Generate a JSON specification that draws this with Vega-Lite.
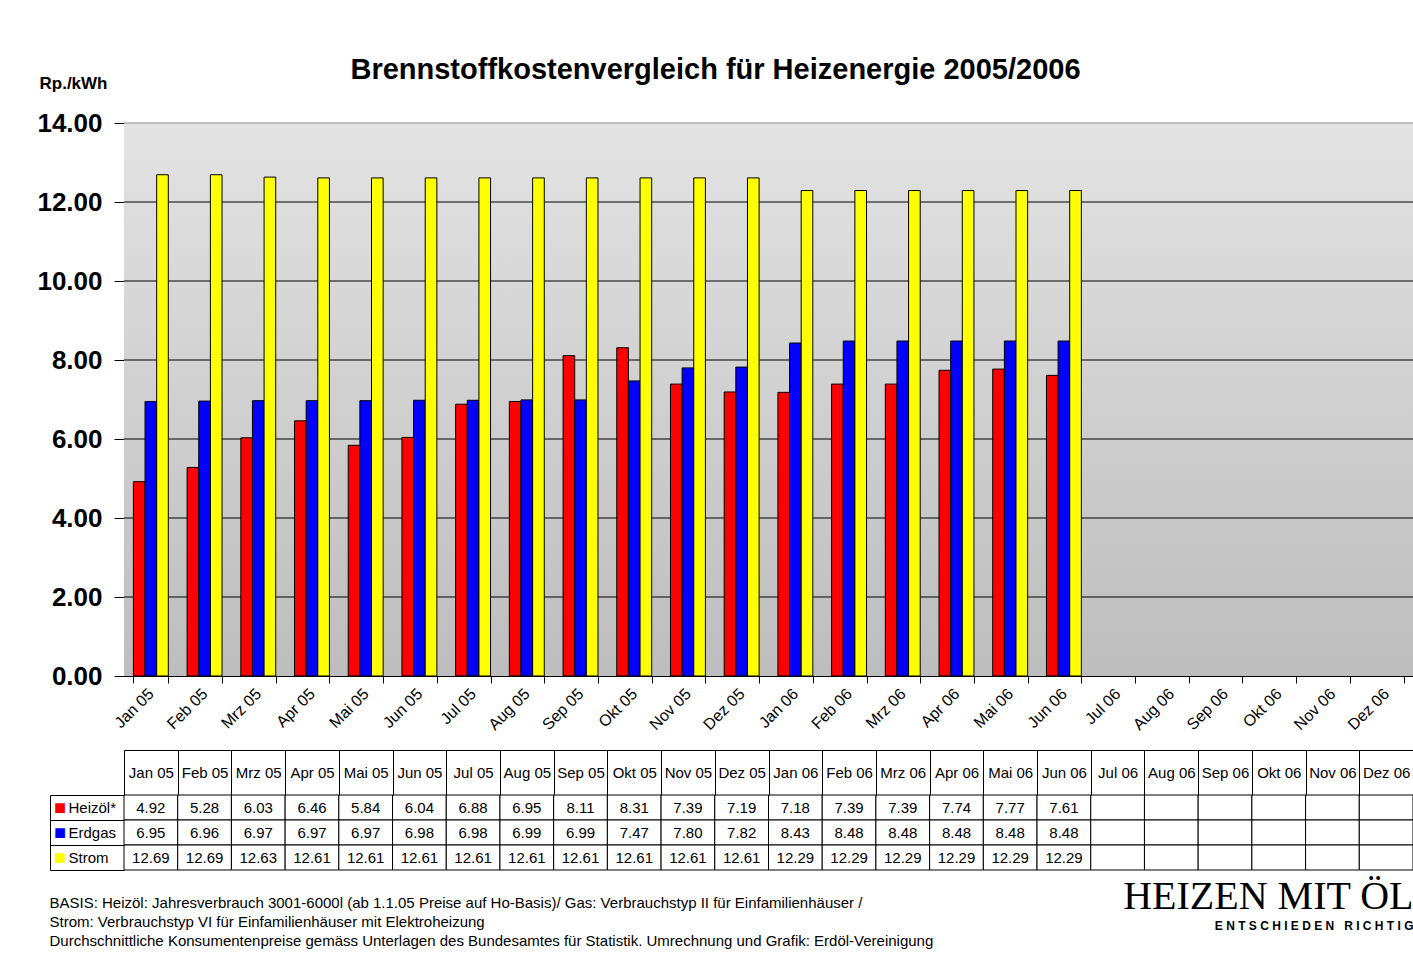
{
  "$schema": "https://vega.github.io/schema/vega-lite/v6.json",
  "padding": {"left": 36, "top": 56, "right": 0, "bottom": 0},
  "background": "white",
  "config": {"font": "Liberation Sans", "view": {"stroke": null}, "title": {"color": "black"}},
  "datasets": {
    "d": [
      {"month": "Jan 05", "series": "Heizöl*", "value": 4.92}, {"month": "Jan 05", "series": "Erdgas", "value": 6.95}, {"month": "Jan 05", "series": "Strom", "value": 12.69},
      {"month": "Feb 05", "series": "Heizöl*", "value": 5.28}, {"month": "Feb 05", "series": "Erdgas", "value": 6.96}, {"month": "Feb 05", "series": "Strom", "value": 12.69},
      {"month": "Mrz 05", "series": "Heizöl*", "value": 6.03}, {"month": "Mrz 05", "series": "Erdgas", "value": 6.97}, {"month": "Mrz 05", "series": "Strom", "value": 12.63},
      {"month": "Apr 05", "series": "Heizöl*", "value": 6.46}, {"month": "Apr 05", "series": "Erdgas", "value": 6.97}, {"month": "Apr 05", "series": "Strom", "value": 12.61},
      {"month": "Mai 05", "series": "Heizöl*", "value": 5.84}, {"month": "Mai 05", "series": "Erdgas", "value": 6.97}, {"month": "Mai 05", "series": "Strom", "value": 12.61},
      {"month": "Jun 05", "series": "Heizöl*", "value": 6.04}, {"month": "Jun 05", "series": "Erdgas", "value": 6.98}, {"month": "Jun 05", "series": "Strom", "value": 12.61},
      {"month": "Jul 05", "series": "Heizöl*", "value": 6.88}, {"month": "Jul 05", "series": "Erdgas", "value": 6.98}, {"month": "Jul 05", "series": "Strom", "value": 12.61},
      {"month": "Aug 05", "series": "Heizöl*", "value": 6.95}, {"month": "Aug 05", "series": "Erdgas", "value": 6.99}, {"month": "Aug 05", "series": "Strom", "value": 12.61},
      {"month": "Sep 05", "series": "Heizöl*", "value": 8.11}, {"month": "Sep 05", "series": "Erdgas", "value": 6.99}, {"month": "Sep 05", "series": "Strom", "value": 12.61},
      {"month": "Okt 05", "series": "Heizöl*", "value": 8.31}, {"month": "Okt 05", "series": "Erdgas", "value": 7.47}, {"month": "Okt 05", "series": "Strom", "value": 12.61},
      {"month": "Nov 05", "series": "Heizöl*", "value": 7.39}, {"month": "Nov 05", "series": "Erdgas", "value": 7.80}, {"month": "Nov 05", "series": "Strom", "value": 12.61},
      {"month": "Dez 05", "series": "Heizöl*", "value": 7.19}, {"month": "Dez 05", "series": "Erdgas", "value": 7.82}, {"month": "Dez 05", "series": "Strom", "value": 12.61},
      {"month": "Jan 06", "series": "Heizöl*", "value": 7.18}, {"month": "Jan 06", "series": "Erdgas", "value": 8.43}, {"month": "Jan 06", "series": "Strom", "value": 12.29},
      {"month": "Feb 06", "series": "Heizöl*", "value": 7.39}, {"month": "Feb 06", "series": "Erdgas", "value": 8.48}, {"month": "Feb 06", "series": "Strom", "value": 12.29},
      {"month": "Mrz 06", "series": "Heizöl*", "value": 7.39}, {"month": "Mrz 06", "series": "Erdgas", "value": 8.48}, {"month": "Mrz 06", "series": "Strom", "value": 12.29},
      {"month": "Apr 06", "series": "Heizöl*", "value": 7.74}, {"month": "Apr 06", "series": "Erdgas", "value": 8.48}, {"month": "Apr 06", "series": "Strom", "value": 12.29},
      {"month": "Mai 06", "series": "Heizöl*", "value": 7.77}, {"month": "Mai 06", "series": "Erdgas", "value": 8.48}, {"month": "Mai 06", "series": "Strom", "value": 12.29},
      {"month": "Jun 06", "series": "Heizöl*", "value": 7.61}, {"month": "Jun 06", "series": "Erdgas", "value": 8.48}, {"month": "Jun 06", "series": "Strom", "value": 12.29},
      {"month": "Jul 06", "series": "Heizöl*", "value": null}, {"month": "Jul 06", "series": "Erdgas", "value": null}, {"month": "Jul 06", "series": "Strom", "value": null},
      {"month": "Aug 06", "series": "Heizöl*", "value": null}, {"month": "Aug 06", "series": "Erdgas", "value": null}, {"month": "Aug 06", "series": "Strom", "value": null},
      {"month": "Sep 06", "series": "Heizöl*", "value": null}, {"month": "Sep 06", "series": "Erdgas", "value": null}, {"month": "Sep 06", "series": "Strom", "value": null},
      {"month": "Okt 06", "series": "Heizöl*", "value": null}, {"month": "Okt 06", "series": "Erdgas", "value": null}, {"month": "Okt 06", "series": "Strom", "value": null},
      {"month": "Nov 06", "series": "Heizöl*", "value": null}, {"month": "Nov 06", "series": "Erdgas", "value": null}, {"month": "Nov 06", "series": "Strom", "value": null},
      {"month": "Dez 06", "series": "Heizöl*", "value": null}, {"month": "Dez 06", "series": "Erdgas", "value": null}, {"month": "Dez 06", "series": "Strom", "value": null}
    ]
  },
  "title": {
    "text": "HEIZEN MIT ÖL",
    "subtitle": "E N T S C H I E D E N\u00a0\u00a0\u00a0R I C H T I G",
    "orient": "bottom",
    "anchor": "end",
    "frame": "bounds",
    "font": "Liberation Serif",
    "fontSize": 40,
    "fontWeight": "normal",
    "color": "black",
    "subtitleFont": "Liberation Sans",
    "subtitleFontSize": 12,
    "subtitleFontWeight": "bold",
    "subtitleColor": "black",
    "subtitlePadding": 4,
    "offset": -72
  },
  "spacing": 16,
  "vconcat": [
    {
      "width": 1289,
      "height": 553,
      "title": {
        "text": "Brennstoffkostenvergleich für Heizenergie 2005/2006",
        "fontSize": 29,
        "fontWeight": "bold",
        "anchor": "middle",
        "dx": -53,
        "offset": -11
      },
      "layer": [
        {
          "data": {"values": [{}]},
          "mark": {"type": "rect", "fill": {"gradient": "linear", "x1": 0, "y1": 0, "x2": 0, "y2": 1, "stops": [{"offset": 0, "color": "#e3e3e3"}, {"offset": 1, "color": "#bdbdbd"}]}},
          "encoding": {"y": {"datum": 0, "type": "quantitative"}, "y2": {"datum": 14}}
        },
        {
          "data": {"values": [{"v": 2}, {"v": 4}, {"v": 6}, {"v": 8}, {"v": 10}, {"v": 12}]},
          "mark": {"type": "rule", "color": "black", "strokeWidth": 1},
          "encoding": {"y": {"field": "v", "type": "quantitative"}}
        },
        {
          "data": {"values": [{"v": 14}]},
          "mark": {"type": "rule", "color": "#8c8c8c", "strokeWidth": 1},
          "encoding": {"y": {"field": "v", "type": "quantitative"}}
        },
        {
          "data": {"name": "d"},
          "mark": {"type": "bar", "stroke": "black", "strokeWidth": 1},
          "encoding": {
            "x": {
              "field": "month", "type": "nominal", "sort": null,
              "scale": {"domain": ["Jan 05","Feb 05","Mrz 05","Apr 05","Mai 05","Jun 05","Jul 05","Aug 05","Sep 05","Okt 05","Nov 05","Dez 05","Jan 06","Feb 06","Mrz 06","Apr 06","Mai 06","Jun 06","Jul 06","Aug 06","Sep 06","Okt 06","Nov 06","Dez 06"], "paddingInner": 0.35, "paddingOuter": 0.175},
              "axis": {"title": null, "labelAngle": -45, "labelAlign": "right", "labelBaseline": "middle", "labelFontSize": 16, "labelColor": "black", "labelPadding": 8, "tickBand": "extent", "tickSize": 7, "tickColor": "black", "domainColor": "black", "labelOverlap": false, "labelBound": false}
            },
            "xOffset": {"field": "series", "type": "nominal", "scale": {"domain": ["Heizöl*", "Erdgas", "Strom"]}},
            "y": {
              "field": "value", "type": "quantitative",
              "scale": {"domain": [0, 14], "nice": false},
              "axis": {"title": "Rp./kWh", "titleAngle": 0, "titleAlign": "left", "titleBaseline": "middle", "titleX": -85, "titleY": -40, "titleFontSize": 17, "titleFontWeight": "bold", "titleColor": "black", "values": [0, 2, 4, 6, 8, 10, 12, 14], "format": ".2f", "labelFontSize": 26, "labelFontWeight": "bold", "labelColor": "black", "labelPadding": 12, "tickSize": 10, "tickColor": "black", "domainColor": "black", "grid": false}
            },
            "color": {"field": "series", "type": "nominal", "scale": {"domain": ["Heizöl*", "Erdgas", "Strom"], "range": ["#ff0000", "#0000ff", "#ffff00"]}, "legend": null}
          }
        }
      ]
    },
    {
      "width": 1289,
      "height": 75,
      "data": {"name": "d"},
      "title": {
        "text": [
          "BASIS: Heizöl: Jahresverbrauch 3001-6000l (ab 1.1.05 Preise auf Ho-Basis)/ Gas: Verbrauchstyp II für Einfamilienhäuser /",
          "Strom: Verbrauchstyp VI für Einfamilienhäuser mit Elektroheizung",
          "Durchschnittliche Konsumentenpreise gemäss Unterlagen des Bundesamtes für Statistik. Umrechnung und Grafik: Erdöl-Vereinigung"
        ],
        "orient": "bottom",
        "anchor": "start",
        "frame": "bounds",
        "fontSize": 15,
        "fontWeight": "normal",
        "lineHeight": 19,
        "offset": 25
      },
      "layer": [
        {
          "mark": {"type": "rect", "fill": "white", "stroke": "black", "strokeWidth": 1},
          "encoding": {
            "x": {
              "field": "month", "type": "nominal", "sort": null,
              "scale": {"domain": ["Jan 05","Feb 05","Mrz 05","Apr 05","Mai 05","Jun 05","Jul 05","Aug 05","Sep 05","Okt 05","Nov 05","Dez 05","Jan 06","Feb 06","Mrz 06","Apr 06","Mai 06","Jun 06","Jul 06","Aug 06","Sep 06","Okt 06","Nov 06","Dez 06"], "paddingInner": 0, "paddingOuter": 0},
              "axis": {"orient": "top", "title": null, "labelAngle": 0, "labelAlign": "center", "labelBaseline": "middle", "labelFontSize": 15, "labelColor": "black", "labelPadding": -22.5, "tickBand": "extent", "tickSize": 45, "tickColor": "black", "domain": false, "labelOverlap": false, "labelBound": false}
            },
            "y": {
              "field": "series", "type": "nominal", "sort": null,
              "scale": {"domain": ["Heizöl*", "Erdgas", "Strom"], "paddingInner": 0, "paddingOuter": 0},
              "axis": {"orient": "left", "title": null, "labelAlign": "left", "labelBaseline": "middle", "labelFontSize": 15, "labelColor": "black", "labelPadding": -18, "tickBand": "extent", "tickSize": 74, "tickColor": "black", "domain": false}
            }
          }
        },
        {
          "transform": [{"filter": "datum.value != null"}],
          "mark": {"type": "text", "fontSize": 15, "color": "black"},
          "encoding": {
            "x": {"field": "month", "type": "nominal", "sort": null, "scale": {"domain": ["Jan 05","Feb 05","Mrz 05","Apr 05","Mai 05","Jun 05","Jul 05","Aug 05","Sep 05","Okt 05","Nov 05","Dez 05","Jan 06","Feb 06","Mrz 06","Apr 06","Mai 06","Jun 06","Jul 06","Aug 06","Sep 06","Okt 06","Nov 06","Dez 06"], "paddingInner": 0, "paddingOuter": 0}, "axis": null},
            "y": {
              "field": "series", "type": "nominal", "sort": null,
              "scale": {"domain": ["Heizöl*", "Erdgas", "Strom"], "paddingInner": 0, "paddingOuter": 0},
              "axis": {"orient": "left", "title": null, "labelExpr": "'■'", "labelAlign": "center", "labelBaseline": "middle", "labelFontSize": 20, "labelColor": {"condition": [{"test": "datum.value === 'Heizöl*'", "value": "#ff0000"}, {"test": "datum.value === 'Erdgas'", "value": "#0000ff"}], "value": "#ffff00"}, "labelPadding": 64.5, "ticks": false, "domain": false, "zindex": 2}
            },
            "text": {"field": "value", "type": "quantitative", "format": ".2f"}
          }
        },
        {
          "mark": {"type": "rect", "opacity": 0},
          "encoding": {
            "x": {
              "field": "month", "type": "nominal", "sort": null,
              "scale": {"domain": ["Jan 05","Feb 05","Mrz 05","Apr 05","Mai 05","Jun 05","Jul 05","Aug 05","Sep 05","Okt 05","Nov 05","Dez 05","Jan 06","Feb 06","Mrz 06","Apr 06","Mai 06","Jun 06","Jul 06","Aug 06","Sep 06","Okt 06","Nov 06","Dez 06"], "paddingInner": 0, "paddingOuter": 0},
              "axis": {"orient": "top", "offset": 45, "title": null, "labels": false, "ticks": false, "domain": true, "domainColor": "black"}
            },
            "y": {
              "field": "series", "type": "nominal", "sort": null,
              "scale": {"domain": ["Heizöl*", "Erdgas", "Strom"], "paddingInner": 0, "paddingOuter": 0},
              "axis": {"orient": "left", "title": null, "offset": 74, "labels": false, "ticks": false, "domain": true, "domainColor": "black", "zindex": 1}
            }
          }
        }
      ],
      "resolve": {"scale": {"x": "independent", "y": "independent"}, "axis": {"x": "independent", "y": "independent"}}
    }
  ]
}
